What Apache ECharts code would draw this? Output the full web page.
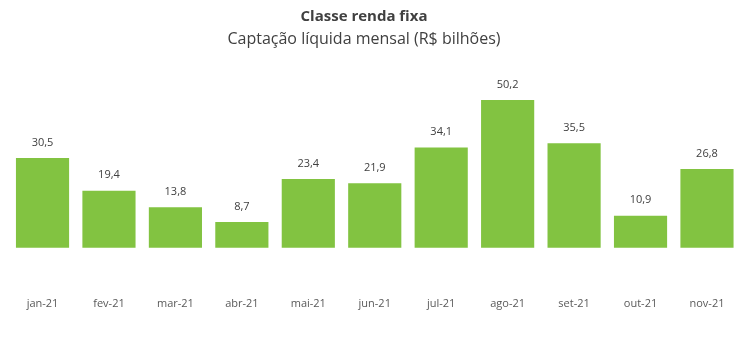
<!DOCTYPE html>
<html><head><meta charset="utf-8">
<script src="https://cdn.jsdelivr.net/npm/echarts@6/dist/echarts.min.js"></script>
<style>html,body{margin:0;padding:0;background:#fff}#c{width:750px;height:356px}</style>
</head><body><div id="c"></div>
<script>
const categories = ['jan-21','fev-21','mar-21','abr-21','mai-21','jun-21','jul-21','ago-21','set-21','out-21','nov-21'];
const values = [30.5, 19.4, 13.8, 8.7, 23.4, 21.9, 34.1, 50.2, 35.5, 10.9, 26.8];
const titleText = 'Classe renda fixa';
const subtitleText = 'Captação líquida mensal (R$ bilhões)';
const chart = echarts.init(document.getElementById('c'));
chart.setOption({
  animation: false,
  title: {
    text: titleText, subtext: subtitleText, left: 359, textAlign: 'center', top: 4, itemGap: 7,
    textStyle: {fontFamily: 'Open Sans', fontWeight: 'bold', fontSize: 15, color: '#404040'},
    subtextStyle: {fontFamily: 'Open Sans', fontSize: 16, color: '#404040'}
  },
  grid: {left: 9.3, right: 9.8, top: 71.3, bottom: 108.3, containLabel: false},
  xAxis: {
    type: 'category', data: categories,
    axisLine: {show: false}, axisTick: {show: false},
    axisLabel: {margin: 51, color: '#595959', fontFamily: 'Open Sans', fontSize: 11}
  },
  yAxis: {type: 'value', min: 0, max: 60, show: false, splitLine: {show: false}},
  series: [{
    type: 'bar', data: values, barCategoryGap: '20%',
    itemStyle: {color: '#82C341'},
    label: {show: true, position: 'top', distance: 10, color: '#404040', fontFamily: 'Open Sans', fontSize: 11,
      formatter: p => p.value.toFixed(1).replace('.', ',')}
  }]
});
</script></body></html>
